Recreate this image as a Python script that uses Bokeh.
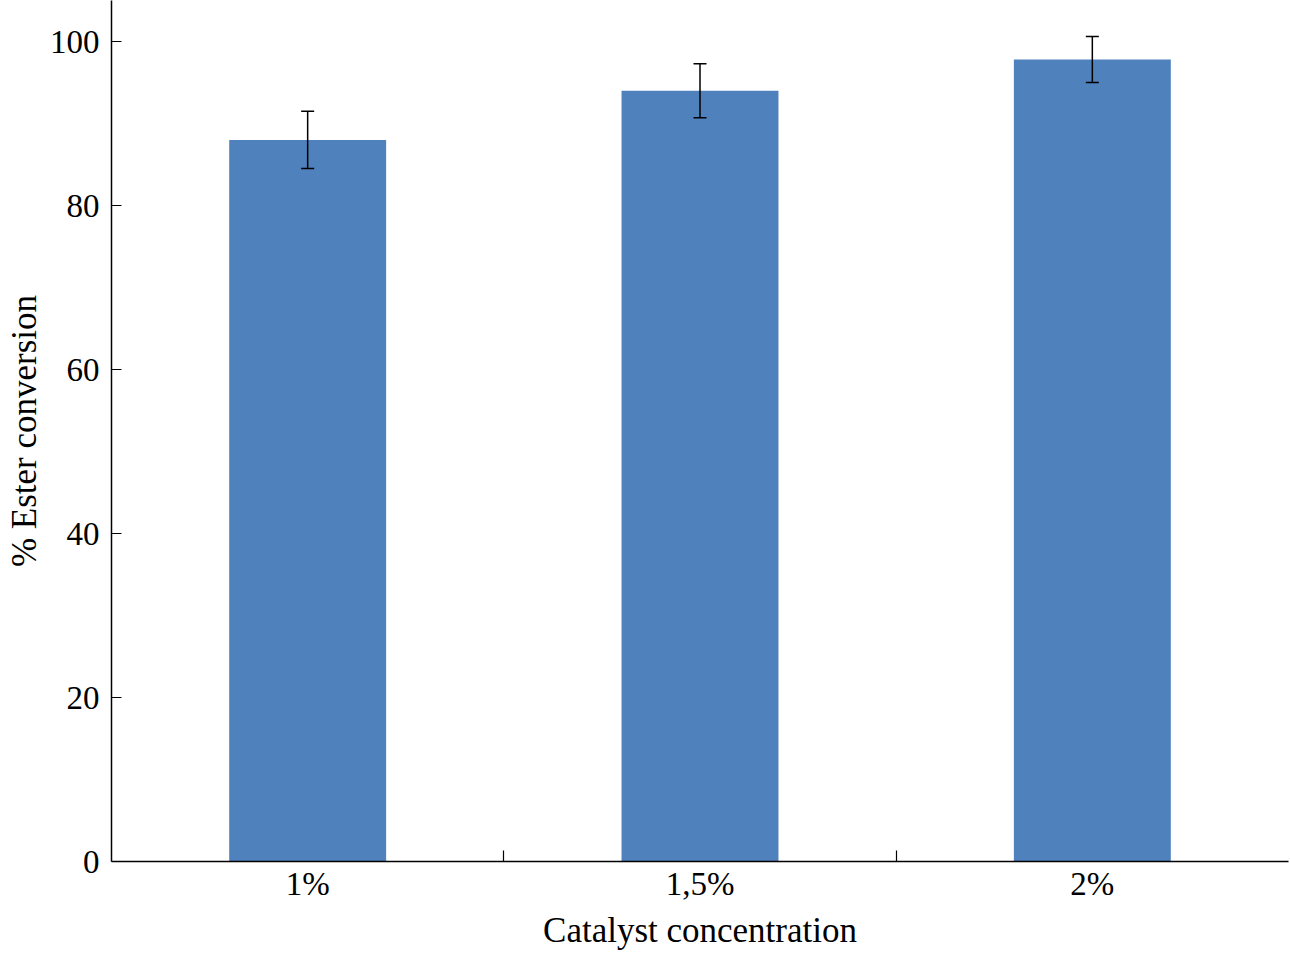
from bokeh.plotting import figure
from bokeh.models import Range1d, FixedTicker, Whisker, ColumnDataSource
from bokeh.embed import file_html
from bokeh.resources import INLINE

categories = ["1%", "1,5%", "2%"]
conversion = [88.0, 94.0, 97.8]
error = [3.5, 3.3, 2.8]
y_ticks = [0, 20, 40, 60, 80, 100]

positions = [i + 0.5 for i in range(len(categories))]
upper = [v + e for v, e in zip(conversion, error)]
lower = [v - e for v, e in zip(conversion, error)]
src = ColumnDataSource(dict(x=positions, top=conversion, upper=upper, lower=lower))

FONT = "Liberation Serif"

p = figure(width=1290, height=954, output_backend="svg", toolbar_location=None,
           x_range=Range1d(0, len(categories)), y_range=Range1d(0, 105.0),
           min_border_left=111, min_border_right=2, min_border_top=0, min_border_bottom=93)
p.outline_line_color = None
p.xgrid.visible = False
p.ygrid.visible = False

p.vbar(x="x", top="top", width=0.4, bottom=0, source=src, fill_color="#4F81BD", line_color=None)
w = Whisker(source=src, base="x", upper="upper", lower="lower", line_color="black",
            line_width=1.5, level="overlay")
w.upper_head.size = 13
w.lower_head.size = 13
w.upper_head.line_width = 1.5
w.lower_head.line_width = 1.5
p.add_layout(w)

xa = p.xaxis[0]
xa.ticker = FixedTicker(ticks=positions, minor_ticks=list(range(1, len(categories))))
xa.major_label_overrides = {pos: c for pos, c in zip(positions, categories)}
xa.major_tick_line_color = None
xa.major_tick_out = 0
xa.major_tick_in = 0
xa.minor_tick_in = 11
xa.minor_tick_out = 0
xa.minor_tick_line_color = "black"
xa.minor_tick_line_width = 1.2
xa.axis_line_color = "black"
xa.axis_line_width = 1.5
xa.major_label_standoff = 4
xa.major_label_text_font = FONT
xa.major_label_text_font_size = "33px"
xa.major_label_text_color = "black"
xa.axis_label = "Catalyst concentration"
xa.axis_label_text_font = FONT
xa.axis_label_text_font_size = "35px"
xa.axis_label_text_font_style = "normal"
xa.axis_label_text_color = "black"
xa.axis_label_standoff = 6

ya = p.yaxis[0]
ya.ticker = FixedTicker(ticks=y_ticks)
ya.major_tick_in = 10
ya.major_tick_out = 0
ya.major_tick_line_color = "black"
ya.major_tick_line_width = 1.2
ya.minor_tick_line_color = None
ya.minor_tick_out = 0
ya.minor_tick_in = 0
ya.axis_line_color = "black"
ya.axis_line_width = 1.5
ya.major_label_standoff = 12
ya.major_label_text_font = FONT
ya.major_label_text_font_size = "33px"
ya.major_label_text_color = "black"
ya.axis_label = "% Ester conversion"
ya.axis_label_text_font = FONT
ya.axis_label_text_font_size = "35px"
ya.axis_label_text_font_style = "normal"
ya.axis_label_text_color = "black"
ya.axis_label_standoff = 3

open("out.html", "w").write(file_html(p, INLINE))
